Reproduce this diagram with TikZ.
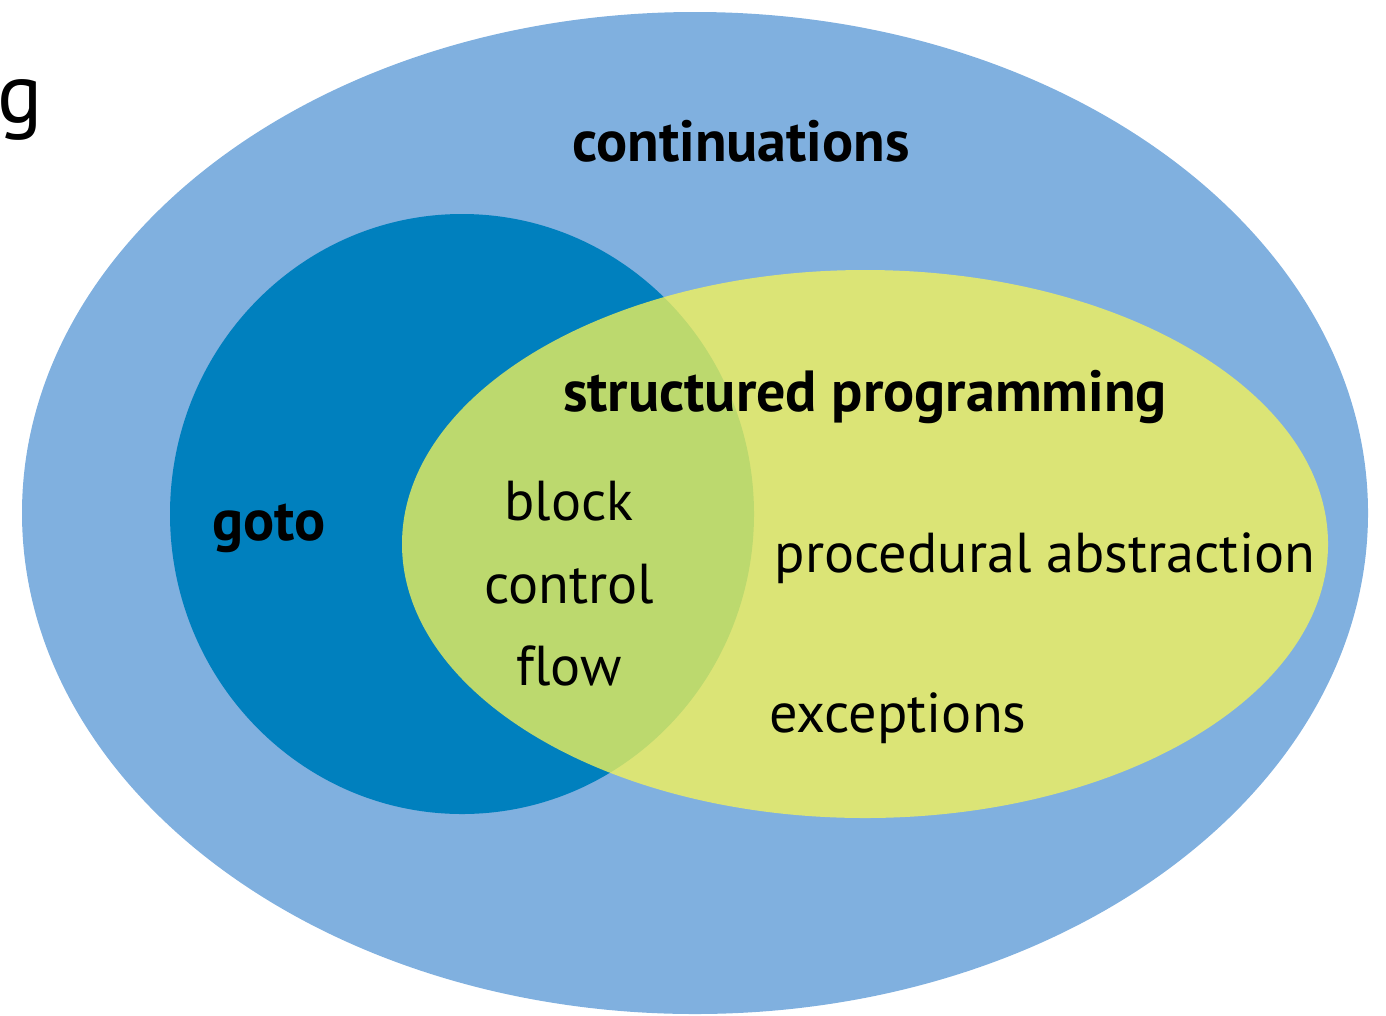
\documentclass[tikz,border=0pt]{standalone}
\usepackage{fontspec}
\setmainfont{PT Sans}[Ligatures=NoCommon]
\usetikzlibrary{positioning}
\definecolor{contblue}{RGB}{128,176,223}
\definecolor{gotoblue}{RGB}{0,128,190}
\definecolor{spyellow}{RGB}{248,245,86}
\tikzset{
        lbl_n/.style = {inner sep=0pt, anchor=base, text=black,
            font=\fontsize{16}{18}\selectfont},
        lbl_b/.style = {lbl_n, font=\fontsize{16.5}{18}\selectfont\bfseries},
        set_cont/.style = {fill=contblue},
        set_goto/.style = {fill=gotoblue},
        set_sp/.style = {fill=spyellow, fill opacity=0.76}
    }
\begin{document}
\begin{tikzpicture}[x=0.01cm, y=-0.01cm]
    \useasboundingbox (0,0) rectangle (1386,1015);
    % sets
    \fill [set_cont] (695,513) ellipse [x radius=673, y radius=501];
    \fill [set_goto] (462,514) ellipse [x radius=292, y radius=300];
    \fill [set_sp] (865,544) ellipse [x radius=463, y radius=274];
    % labels
    \node [lbl_n, anchor=base east, font=\fontsize{24}{26}\selectfont] (title) at (44,122) {g};
    \node [lbl_b] (cont) at (741,161) {continuations};
    \node [lbl_b] (sp) at (865,411) {structured programming};
    \node [lbl_b] (goto) at (269,540) {goto};
    \node [lbl_n] (block) at (569,520) {block};
    \node [lbl_n] (control) at (569,603) {control};
    \node [lbl_n] (flow) at (569,685) {flow};
    \node [lbl_n] (proc) at (1045,572) {procedural abstraction};
    \node [lbl_n] (exc) at (898,732) {exceptions};
\end{tikzpicture}
\end{document}
